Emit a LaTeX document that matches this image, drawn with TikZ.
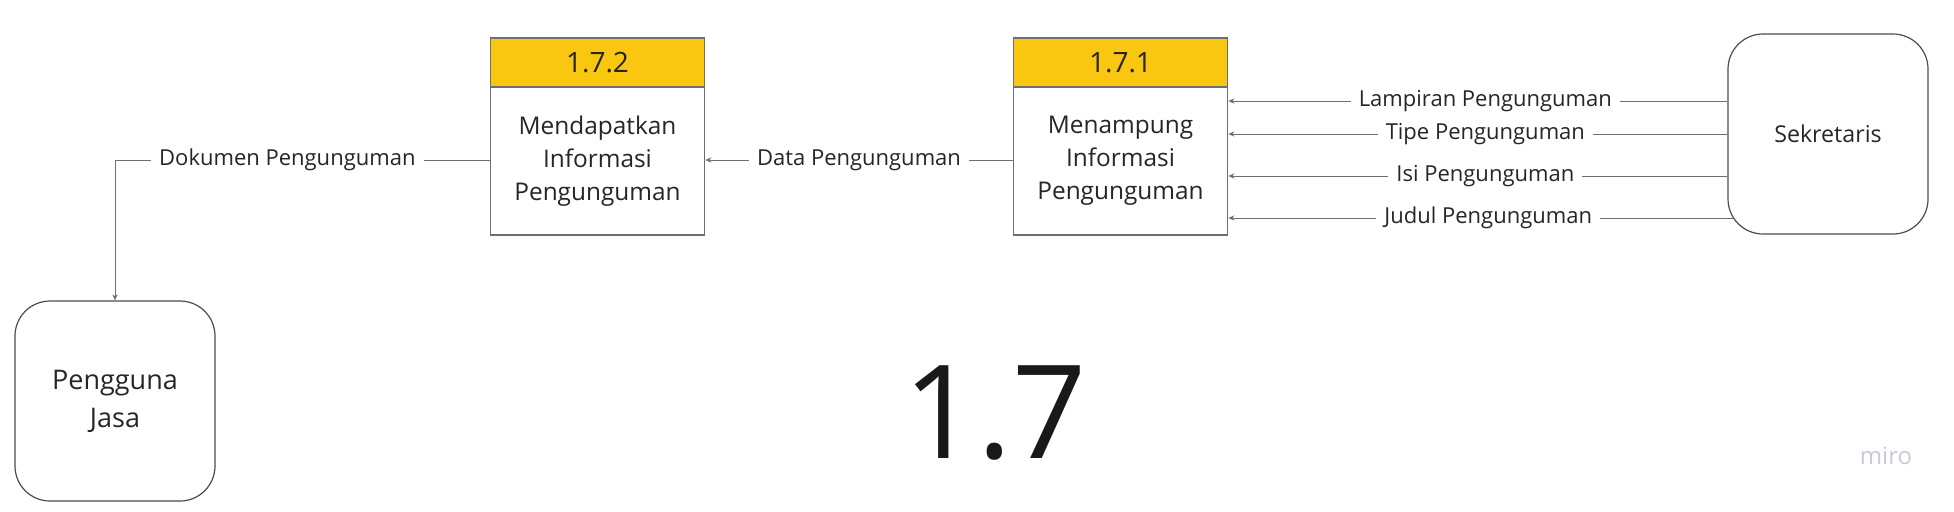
\documentclass[tikz,border=0pt]{standalone}
\usepackage{fontspec}
\setmainfont{Open Sans}
\usetikzlibrary{arrows.meta}
\definecolor{miroyellow}{RGB}{250,199,16}
\definecolor{linegray}{RGB}{110,110,110}
\definecolor{mirogray}{RGB}{200,201,214}

\tikzset{
    header/.style = {draw = linegray, line width = 0.8pt, fill = miroyellow, minimum width = 107pt,
        minimum height = 24.5pt, inner sep = 0pt, text = black!85, font = \fontsize{14}{16}\selectfont},
    procbody/.style = {draw = linegray, line width = 0.8pt, fill = white, minimum width = 107pt,
        minimum height = 74pt, align = center, text = black!85, font = \fontsize{12.2}{16.5}\selectfont},
    entity/.style = {draw = black!70, line width = 0.6pt, rounded corners = 17.5pt, minimum width = 100pt,
        minimum height = 100pt, align = center, text = black!85},
    flow/.style = {draw = linegray, line width = 0.5pt, -{Stealth[length = 3pt, width = 2.6pt]}},
    flowlabel/.style = {fill = white, inner xsep = 4pt, inner ysep = 1pt, text = black!85,
        font = \fontsize{11}{13}\selectfont}
}

\begin{document}
\begin{tikzpicture}[x = 0.5pt, y = -0.5pt]
        \useasboundingbox (0,0) rectangle (1954,511);

        % processes
        \node[procbody] (p172) at (597.5,161) {Mendapatkan\\Informasi\\Pengunguman};
        \node[header] (h172) at (597.5,62.5) {1.7.2};
        \node[procbody] (p171) at (1120.5,161) {Menampung\\Informasi\\Pengunguman};
        \node[header] (h171) at (1120.5,62.5) {1.7.1};

        % entities
        \node[entity, font = \fontsize{11.6}{13}\selectfont] (sek) at (1828,134) {Sekretaris};
        \node[entity, font = \fontsize{13.5}{19}\selectfont] (pj) at (115,401) {Pengguna\\Jasa};

        % flows from Sekretaris
        \foreach \i/\s/\dx/\t in {1/16.5pt/0pt/Lampiran Pengunguman, 2/0pt/0pt/Tipe Pengunguman,
                3/-21pt/0pt/Isi Pengunguman, 4/-42pt/2.8pt/Judul Pengunguman} {
            \coordinate (s\i) at ([yshift = \s, xshift = \dx]sek.west);
            \draw[flow] (s\i) -- node[flowlabel, pos = 0.485] {\t} (s\i -| p171.east);
        }

        \draw[flow] ([yshift = 0.5pt]p171.west) -- node[flowlabel] {Data Pengunguman} ([yshift = 0.5pt]p172.east);
        \draw[flow] ([yshift = 0.5pt]p172.west) -| node[flowlabel, pos = 0.27] {Dokumen Pengunguman} (pj.north);

        \node[text = black!90, font = \fontsize{65}{70}\selectfont] (title) at (995,413) {1.7};
        \node[text = mirogray, font = \fontsize{12}{14}\selectfont] (miro) at (1886,456) {miro};
    \end{tikzpicture}
\end{document}
